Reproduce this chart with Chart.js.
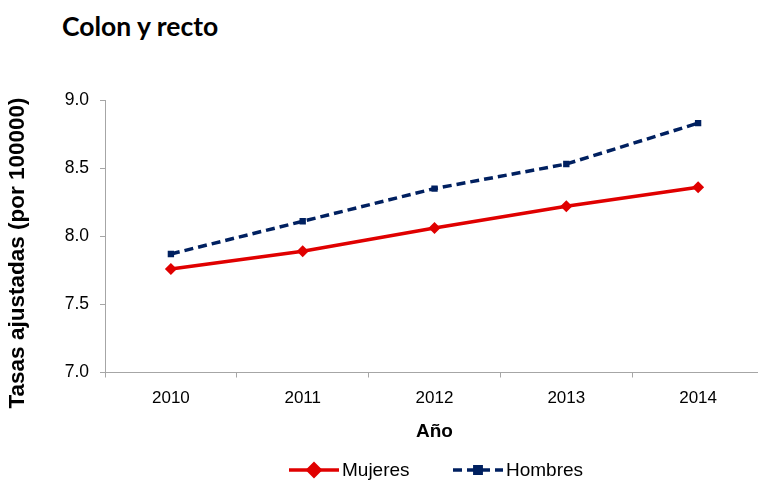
<!DOCTYPE html>
<html>
<head>
<meta charset="utf-8">
<script src="https://cdn.jsdelivr.net/npm/chart.js@4"></script>
<style>
  html, body { margin: 0; padding: 0; background: #fff; overflow: hidden; }
  #wrap { position: relative; width: 758px; height: 486px; overflow: hidden; }
  #title { position: absolute; left: 62px; top: 10px; font: 700 26.5px Lato, "Open Sans", sans-serif; color: #000; }
  #chart { position: absolute; left: 0; top: 0; }
</style>
</head>
<body>
<div id="wrap">
  <div id="title">Colon y recto</div>
  <canvas id="chart" width="770" height="486"></canvas>
</div>
<script>
const years = ['2010', '2011', '2012', '2013', '2014'];
const mujeres = [7.76, 7.89, 8.06, 8.22, 8.36];
const hombres = [7.87, 8.11, 8.35, 8.53, 8.83];
const yTicks = [7.0, 7.5, 8.0, 8.5, 9.0];
const yTitle = 'Tasas ajustadas (por 100000)';

const COLORS = {
  red: '#e00000',
  navy: '#002060',
  axis: '#a6a6a6',
  text: '#000',
};
const FONT = 'Liberation Sans, Arial, sans-serif';

// legend + y title drawn by hand: legend sample shows line + marker,
// and the y title sits lower than the plot centre in the original
const extras = {
  id: 'extras',
  afterDraw(chart) {
    const ctx = chart.ctx;
    const items = [
      { ds: chart.data.datasets[0], x: 289 },
      { ds: chart.data.datasets[1], x: 453 },
    ];
    const y = 470;
    ctx.save();
    items.forEach(({ ds, x }) => {
      ctx.strokeStyle = ds.borderColor;
      ctx.lineWidth = ds.borderWidth;
      ctx.setLineDash(ds.borderDash || []);
      ctx.beginPath();
      ctx.moveTo(x, y);
      ctx.lineTo(x + 50, y);
      ctx.stroke();
      ctx.setLineDash([]);
      Chart.helpers.drawPoint(ctx, {
        pointStyle: ds.pointStyle,
        radius: ds.pointRadius,
        rotation: 0,
        borderWidth: 1,
      }, x + 25, y);
      ctx.fillStyle = ds.borderColor;
      ctx.fill();
      ctx.fillStyle = COLORS.text;
      ctx.font = `19px ${FONT}`;
      ctx.textBaseline = 'middle';
      ctx.fillText(ds.label, x + 53, y + 1);
    });

    ctx.translate(18, 253);
    ctx.rotate(-Math.PI / 2);
    ctx.font = `bold 22.5px ${FONT}`;
    ctx.textAlign = 'center';
    ctx.textBaseline = 'middle';
    ctx.fillStyle = COLORS.text;
    ctx.fillText(yTitle, 0, 0);
    ctx.restore();
  },
};

new Chart(document.getElementById('chart'), {
  type: 'line',
  data: {
    labels: years,
    datasets: [
      {
        label: 'Mujeres',
        data: mujeres,
        borderColor: COLORS.red,
        backgroundColor: COLORS.red,
        borderWidth: 3.5,
        pointStyle: 'rectRot',
        pointRadius: 6,
        pointBorderWidth: 0,
        tension: 0,
      },
      {
        label: 'Hombres',
        data: hombres,
        borderColor: COLORS.navy,
        backgroundColor: COLORS.navy,
        borderWidth: 3.5,
        borderDash: [9, 5],
        pointStyle: 'rect',
        pointRadius: 4.5,
        pointBorderWidth: 0,
        tension: 0,
      },
    ],
  },
  options: {
    responsive: false,
    animation: false,
    layout: { padding: { top: 100, left: 0, right: 0, bottom: 0 } },
    plugins: {
      legend: { display: false },
      tooltip: { enabled: false },
    },
    scales: {
      x: {
        offset: true,
        grid: { display: true, drawOnChartArea: false, color: COLORS.axis, tickLength: 5, offset: true },
        border: { color: COLORS.axis, width: 1 },
        ticks: { color: COLORS.text, font: { family: FONT, size: 17 }, padding: 11 },
        title: { display: true, text: 'Año', color: COLORS.text, font: { family: FONT, size: 19, weight: 'bold' }, padding: { top: 0, bottom: 43 } },
        afterFit(axis) { axis.height = 486 - 372.5; },
      },
      y: {
        min: 7.0,
        max: 9.0,
        afterBuildTicks(axis) { axis.ticks = yTicks.map((v) => ({ value: v })); },
        grid: { display: true, drawOnChartArea: false, color: COLORS.axis, tickLength: 5 },
        border: { color: COLORS.axis, width: 1 },
        ticks: {
          color: COLORS.text,
          font: { family: FONT, size: 17.5 },
          padding: 11,
          callback: (v) => Number(v).toFixed(1),
        },
        afterFit(axis) { axis.width = 105; },
      },
    },
  },
  plugins: [extras],
});
</script>
</body>
</html>
